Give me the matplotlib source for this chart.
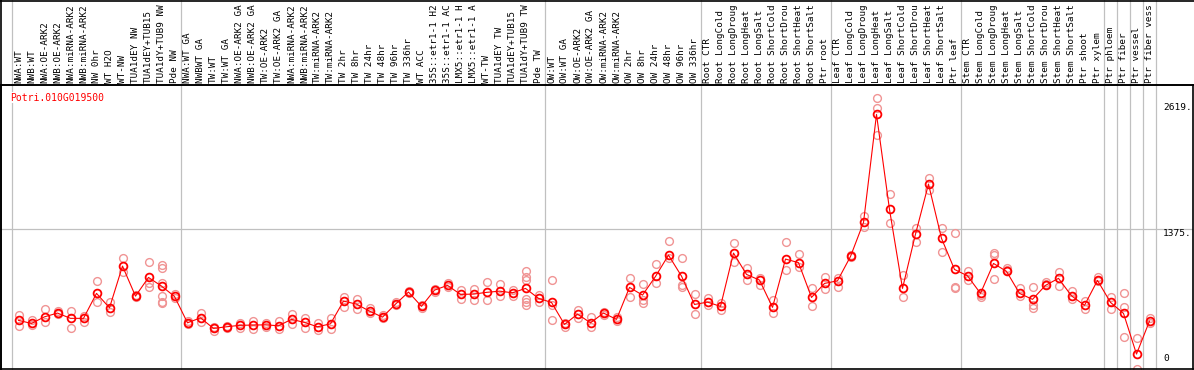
import numpy as np
import matplotlib
matplotlib.use('Agg')
import matplotlib.pyplot as plt
import matplotlib.transforms as mtransforms

plt.rcParams['font.family'] = ['DejaVu Sans Mono']

gene = "Potri.010G019500"

# sample names, as far as they show in the header (14 characters)
labels = [
    "NWA:WT", "NWB:WT", "NWA:OE-ARK2", "NWB:OE-ARK2", "NWA:miRNA-ARK2", "NWB:miRNA-ARK2",
    "NW 0hr", "WT H2O", "WT-NW", "TUA1dEY NW", "TUA1dEY+TUB15", "TUA1dY+TUB9 NW", "Pde NW",
    "NWA:WT GA", "NWBWT GA", "TW:WT", "TW:WT GA", "NWA:OE-ARK2 GA", "NWB:OE-ARK2 GA",
    "TW:OE-ARK2", "TW:OE-ARK2 GA", "NWA:miRNA-ARK2", "NWB:miRNA-ARK2", "TW:miRNA-ARK2",
    "TW:miRNA-ARK2", "TW 2hr", "TW 8hr", "TW 24hr", "TW 48hr", "TW 96hr", "TW 336hr",
    "WT ACC", "35S::etr1-1 H2", "35S::etr1-1 AC", "LMX5::etr1-1 H", "LMX5::etr1-1 A",
    "WT-TW", "TUA1dEY TW", "TUA1dEY+TUB15", "TUA1dY+TUB9 TW", "Pde TW",
    "OW:WT", "OW:WT GA", "OW:OE-ARK2", "OW:OE-ARK2 GA", "OW:miRNA-ARK2", "OW:miRNA-ARK2",
    "OW 2hr", "OW 8hr", "OW 24hr", "OW 48hr", "OW 96hr", "OW 336hr",
    "Root CTR", "Root LongCold", "Root LongDroug", "Root LongHeat", "Root LongSalt",
    "Root ShortCold", "Root ShortDrou", "Root ShortHeat", "Root ShortSalt", "Ptr root",
    "Leaf CTR", "Leaf LongCold", "Leaf LongDroug", "Leaf LongHeat", "Leaf LongSalt",
    "Leaf ShortCold", "Leaf ShortDrou", "Leaf ShortHeat", "Leaf ShortSalt", "Ptr leaf",
    "Stem CTR", "Stem LongCold", "Stem LongDroug", "Stem LongHeat", "Stem LongSalt",
    "Stem ShortCold", "Stem ShortDrou", "Stem ShortHeat", "Stem ShortSalt", "Ptr shoot",
    "Ptr xylem", "Ptr phloem", "Ptr fiber", "Ptr vessel", "Ptr fiber vess",
]

means = [
    479, 449, 514, 551, 499, 499, 745, 603, 1014, 718, 902, 817, 715,
    455, 504, 400, 416, 430, 433, 435, 426, 489, 459, 416, 445, 669, 639, 570, 511,
    639, 758, 617, 777, 824, 735, 738, 755, 767, 751, 794, 696,
    656, 439, 541, 455, 551, 489, 804, 728, 912, 1122, 915, 636,
    659, 617, 1142, 932, 876, 607, 1083, 1048, 705, 843,
    869, 1109, 1444, 2508, 1572, 794, 1329, 1822, 1287, 981,
    918, 745, 1040, 962, 745, 686, 824, 893, 721, 627,
    873, 656, 548, 147, 472,
]

reps = [
    [531, 426], [482, 433], [593, 462], [570, 541], [570, 406], [521, 465],
    [863, 656], [662, 557], [1089, 958], [725, 712], [1050, 843, 804],
    [1024, 991, 843, 718, 662, 653], [735, 702],
    [469, 442], [554, 465], [416, 373], [423, 406], [455, 406], [475, 393],
    [452, 416], [472, 393], [541, 442], [505, 406], [455, 383], [501, 393],
    [712, 613], [689, 590], [603, 547], [528, 498], [662, 630], [767, 744],
    [630, 603], [784, 758], [843, 810], [777, 685], [784, 679], [856, 679],
    [836, 718], [777, 721], [964, 909, 876, 685, 662, 630], [728, 662],
    [876, 630, 482], [449, 416], [580, 498], [508, 410], [564, 531], [508, 472],
    [899, 712], [833, 679, 646], [1030, 843], [1260, 1089], [1089, 827, 810],
    [735, 538],
    [702, 630], [646, 580], [1237, 1050], [991, 876], [899, 827], [679, 554],
    [1247, 974], [1132, 1007], [794, 623], [909, 784],
    [892, 810], [1122, 1099], [1506, 1401], [2666, 2574, 2304], [1723, 1434],
    [925, 712], [1385, 1254], [1877, 1763], [1385, 1155], [1342, 804, 794],
    [968, 876], [728, 712], [1145, 1122, 882], [991, 974], [794, 718],
    [804, 626, 597], [859, 836], [958, 817], [771, 685], [672, 587],
    [902, 869], [712, 587], [744, 607, 311], [301, 0], [498, 449],
]

# group separators (after these column indices)
seps = [-1, 12, 40, 52, 62, 72, 83, 84, 85, 86, 87]
yticks = [2619, 1375]

W, H = 1194, 370
fig = plt.figure(figsize=(W / 100, H / 100), dpi=100)
ax = fig.add_axes([1 / W, 1 / H, 1192 / W, 284 / H])
ax.set_xlim((1 - 18.5) / 13, (1193 - 18.5) / 13)
ax.set_ylim(0, 284 / 0.1015)
ax.set_xticks([])
ax.set_yticks([])
for s in ax.spines.values():
    s.set_color('black')
    s.set_linewidth(1.2)

x = np.arange(len(means))
blend = mtransforms.blended_transform_factory(ax.transData, fig.transFigure)

# separators through header and plot
for s in seps:
    ax.plot([s + 0.5, s + 0.5], [0, 1], color='#c0c0c0', lw=0.9,
            transform=blend, clip_on=False, zorder=0.5)

ax.axhline(1375, color='#c0c0c0', lw=0.9, zorder=0.5)

# header labels
for i, lab in enumerate(labels):
    ax.text(i, (H - 83) / H, lab, transform=blend, rotation=90,
            ha='center', va='bottom', fontsize=6.7, color='black', clip_on=False)

# header separator line and outer border
fig.add_artist(plt.Line2D([0, 1], [(H - 85) / H] * 2, color='black', lw=1.2,
                          transform=fig.transFigure))
fig.add_artist(plt.Line2D([0.5 / W, 0.5 / W], [0, 1], color='black', lw=1.2,
                          transform=fig.transFigure))
fig.add_artist(plt.Line2D([0, 1], [1 - 0.5 / H] * 2, color='black', lw=1.2,
                          transform=fig.transFigure))

# replicates
for i, r in enumerate(reps):
    ax.plot([i] * len(r), r, 'o', mfc='none', mec='#f09494', ms=5.6, mew=1.0,
            clip_on=False, zorder=2)

# mean line
ax.plot(x, means, '-', color='red', lw=0.8, zorder=3)
ax.plot(x, means, 'o', mfc='none', mec='red', ms=5.6, mew=1.3, zorder=4)

# right value labels
ytrans = mtransforms.blended_transform_factory(ax.transAxes, ax.transData)
for v in yticks:
    ax.text(0.975, v, f"{v}.", transform=ytrans,
            ha='left', va='top', fontsize=6.8, color='black')
ax.text(0.975, 0.02, "0", transform=ax.transAxes, ha='left', va='bottom',
        fontsize=6.8, color='black')

ax.text(9 / 1192, 0.955, gene, transform=ax.transAxes,
        ha='left', va='center', fontsize=7, color='red',
        bbox=dict(facecolor='white', edgecolor='none', pad=0.5), zorder=5)

fig.savefig('out.png', dpi=100)
